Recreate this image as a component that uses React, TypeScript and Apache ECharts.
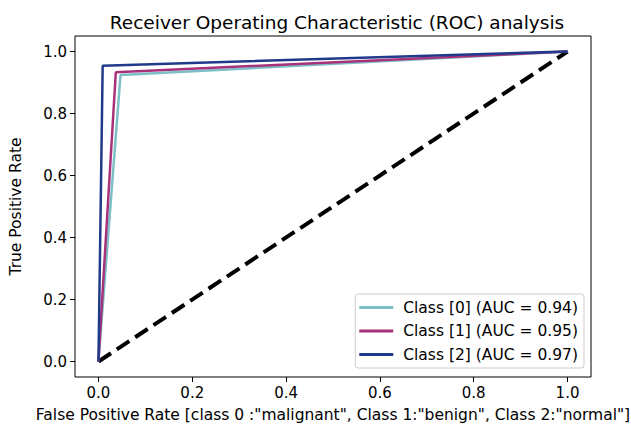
import React, { useEffect, useRef } from "react";
import * as echarts from "echarts";

const seriesNames = ["Class [0] (AUC = 0.94)", "Class [1] (AUC = 0.95)", "Class [2] (AUC = 0.97)"];
const seriesColors = ["#7dbfc6", "#a8327a", "#1f3a8b"];
const class0Fpr = [0, 0.047, 1];
const class0Tpr = [0, 0.924, 1];
const class1Fpr = [0, 0.037, 1];
const class1Tpr = [0, 0.933, 1];
const class2Fpr = [0, 0.009, 1];
const class2Tpr = [0, 0.954, 1];
const chanceX = [0, 1];
const chanceY = [0, 1];
const tickValues = [0, 0.2, 0.4, 0.6, 0.8, 1.0];

const FONT = "DejaVu Sans";

function pairs(xs: number[], ys: number[]) {
  return xs.map((x, i) => [x, ys[i]]);
}

export default function App() {
  const ref = useRef<HTMLDivElement>(null);
  useEffect(() => {
    if (!ref.current) return;
    const chart = echarts.init(ref.current, undefined, { renderer: "svg" });
    const axisCommon = {
      type: "value" as const,
      min: -0.05,
      max: 1.05,
      splitLine: { show: false },
      axisLine: { show: false, onZero: false },
      axisTick: {
        show: true,
        length: 5,
        customValues: tickValues,
        lineStyle: { color: "#000", width: 1 },
      },
      axisLabel: {
        customValues: tickValues,
        formatter: (v: number) => v.toFixed(1),
        color: "#000",
        fontFamily: FONT,
        fontSize: 15,
        margin: 8,
      },
      nameLocation: "middle" as const,
      nameTextStyle: { color: "#000", fontFamily: FONT, fontSize: 15.5 },
    };
    const data = [
      pairs(class0Fpr, class0Tpr),
      pairs(class1Fpr, class1Tpr),
      pairs(class2Fpr, class2Tpr),
    ];
    chart.setOption({
      animation: false,
      backgroundColor: "#fff",
      title: {
        text: "Receiver Operating Characteristic (ROC) analysis",
        left: 332,
        textAlign: "center",
        top: 8,
        textStyle: { color: "#000", fontFamily: FONT, fontSize: 18.5, fontWeight: "normal" },
      },
      grid: {
        left: 68,
        right: 40,
        top: 36,
        bottom: 53,
        show: true,
        borderColor: "#000",
        borderWidth: 1,
        containLabel: false,
      },
      xAxis: {
        ...axisCommon,
        name: 'False Positive Rate [class 0 :"malignant", Class 1:"benign", Class 2:"normal"]',
        nameGap: 30,
      },
      yAxis: {
        ...axisCommon,
        name: "True Positive Rate",
        nameGap: 51,
      },
      legend: {
        data: seriesNames,
        icon: "rect",
        orient: "vertical",
        right: 47,
        bottom: 62,
        itemWidth: 34,
        itemHeight: 3,
        itemGap: 6.5,
        formatter: (name: string) => " " + name,
        padding: [5, 6, 5, 4],
        borderColor: "#cccccc",
        borderWidth: 1,
        borderRadius: 3,
        backgroundColor: "rgba(255,255,255,0.85)",
        textStyle: { color: "#000", fontFamily: FONT, fontSize: 15.5, lineHeight: 17 },
      },
      series: [
        ...seriesNames.map((name, i) => ({
          name,
          type: "line",
          data: data[i],
          symbol: "none",
          color: seriesColors[i],
          lineStyle: { color: seriesColors[i], width: 2.5 },
          z: 3 + i,
        })),
        {
          name: "chance",
          type: "line",
          data: pairs(chanceX, chanceY),
          symbol: "none",
          color: "#000",
          lineStyle: { color: "#000", width: 4, type: [15, 7] },
          z: 2,
        },
      ],
    });
    return () => chart.dispose();
  }, []);
  return <div ref={ref} style={{ position: "fixed", left: 0, top: 0, width: 631, height: 430 }} />;
}
